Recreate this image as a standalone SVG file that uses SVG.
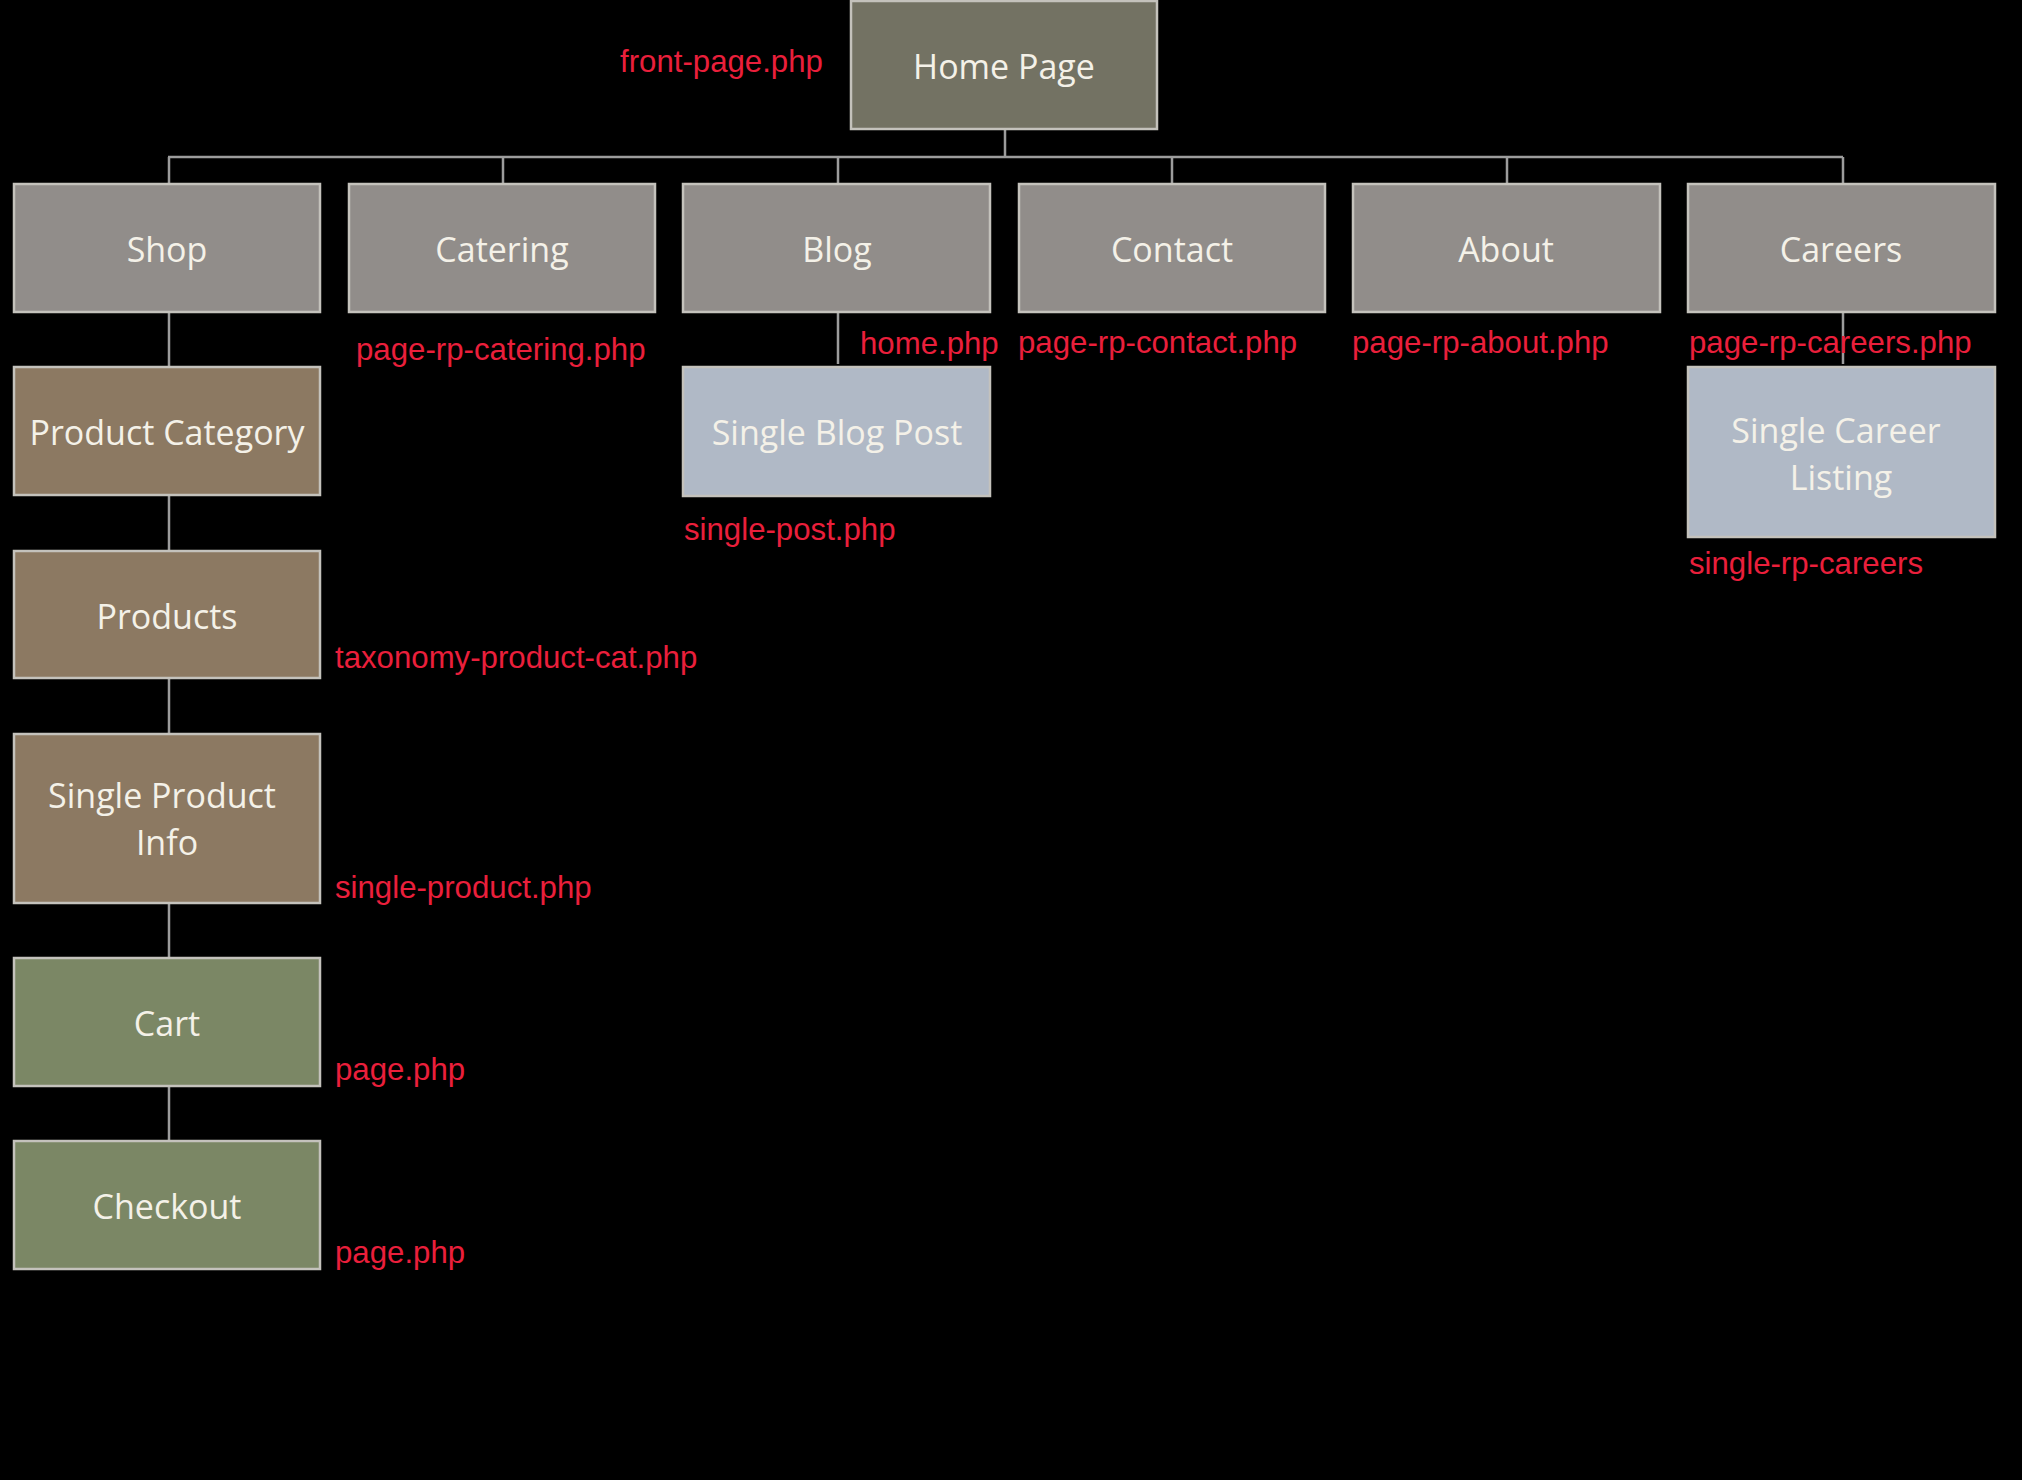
<svg xmlns="http://www.w3.org/2000/svg" width="2022" height="1480" viewBox="0 0 2022 1480">
<style>
.box{stroke:#c4c2bc;stroke-width:2.5}
.home{fill:#737263}
.top{fill:#918d8a}
.brown{fill:#8c7962}
.green{fill:#7b8765}
.blue{fill:#b0b9c6}
.t{font-family:"Open Sans","DejaVu Sans",sans-serif;font-size:34px;fill:#f4f1e8;text-anchor:middle}
.lbl{font-family:"Liberation Sans",Arial,sans-serif;font-size:31.2px;fill:#ea1f3b}
.conn line{stroke:#9c9c9c;stroke-width:2.5}
</style>
<rect width="2022" height="1480" fill="#000"/>
<g id="connectors" class="conn">
<line x1="1005" y1="129" x2="1005" y2="157"/>
<line x1="168" y1="157" x2="1843" y2="157"/>
<line x1="169" y1="157" x2="169" y2="184"/>
<line x1="503" y1="157" x2="503" y2="184"/>
<line x1="838" y1="157" x2="838" y2="184"/>
<line x1="1172" y1="157" x2="1172" y2="184"/>
<line x1="1507" y1="157" x2="1507" y2="184"/>
<line x1="1843" y1="157" x2="1843" y2="184"/>
<line x1="169" y1="312" x2="169" y2="367"/>
<line x1="169" y1="495" x2="169" y2="551"/>
<line x1="169" y1="678" x2="169" y2="734"/>
<line x1="169" y1="903" x2="169" y2="958"/>
<line x1="169" y1="1086" x2="169" y2="1141"/>
<line x1="838" y1="312" x2="838" y2="364"/>
<line x1="1843" y1="312" x2="1843" y2="364"/>
</g>
<g id="home">
<rect class="box home" x="851" y="1" width="306" height="128"/>
<text class="t" x="1004" y="79">Home Page</text>
<text class="lbl" x="620" y="72">front-page.php</text>
</g>
<g id="shop">
<rect class="box top" x="14" y="184" width="306" height="128"/>
<text class="t" x="167" y="262">Shop</text>
</g>
<g id="catering">
<rect class="box top" x="349" y="184" width="306" height="128"/>
<text class="t" x="502" y="262">Catering</text>
<text class="lbl" x="356" y="360">page-rp-catering.php</text>
</g>
<g id="blog">
<rect class="box top" x="683" y="184" width="307" height="128"/>
<text class="t" x="837" y="262">Blog</text>
<text class="lbl" x="860" y="354">home.php</text>
</g>
<g id="contact">
<rect class="box top" x="1019" y="184" width="306" height="128"/>
<text class="t" x="1172" y="262">Contact</text>
<text class="lbl" x="1018" y="353">page-rp-contact.php</text>
</g>
<g id="about">
<rect class="box top" x="1353" y="184" width="307" height="128"/>
<text class="t" x="1506" y="262">About</text>
<text class="lbl" x="1352" y="353">page-rp-about.php</text>
</g>
<g id="careers">
<rect class="box top" x="1688" y="184" width="307" height="128"/>
<text class="t" x="1841" y="262">Careers</text>
<text class="lbl" x="1689" y="353">page-rp-careers.php</text>
</g>
<g id="single-blog-post">
<rect class="box blue" x="683" y="367" width="307" height="129"/>
<text class="t" x="837" y="445">Single Blog Post</text>
<text class="lbl" x="684" y="540">single-post.php</text>
</g>
<g id="single-career-listing">
<rect class="box blue" x="1688" y="367" width="307" height="170"/>
<text class="t" x="1836" y="443">Single Career</text>
<text class="t" x="1841" y="490">Listing</text>
<text class="lbl" x="1689" y="574">single-rp-careers</text>
</g>
<g id="product-category">
<rect class="box brown" x="14" y="367" width="306" height="128"/>
<text class="t" x="167" y="445">Product Category</text>
</g>
<g id="products">
<rect class="box brown" x="14" y="551" width="306" height="127"/>
<text class="t" x="167" y="629">Products</text>
<text class="lbl" x="335" y="668">taxonomy-product-cat.php</text>
</g>
<g id="single-product-info">
<rect class="box brown" x="14" y="734" width="306" height="169"/>
<text class="t" x="162" y="808">Single Product</text>
<text class="t" x="167" y="855">Info</text>
<text class="lbl" x="335" y="898">single-product.php</text>
</g>
<g id="cart">
<rect class="box green" x="14" y="958" width="306" height="128"/>
<text class="t" x="167" y="1036">Cart</text>
<text class="lbl" x="335" y="1080">page.php</text>
</g>
<g id="checkout">
<rect class="box green" x="14" y="1141" width="306" height="128"/>
<text class="t" x="167" y="1219">Checkout</text>
<text class="lbl" x="335" y="1263">page.php</text>
</g>
</svg>
